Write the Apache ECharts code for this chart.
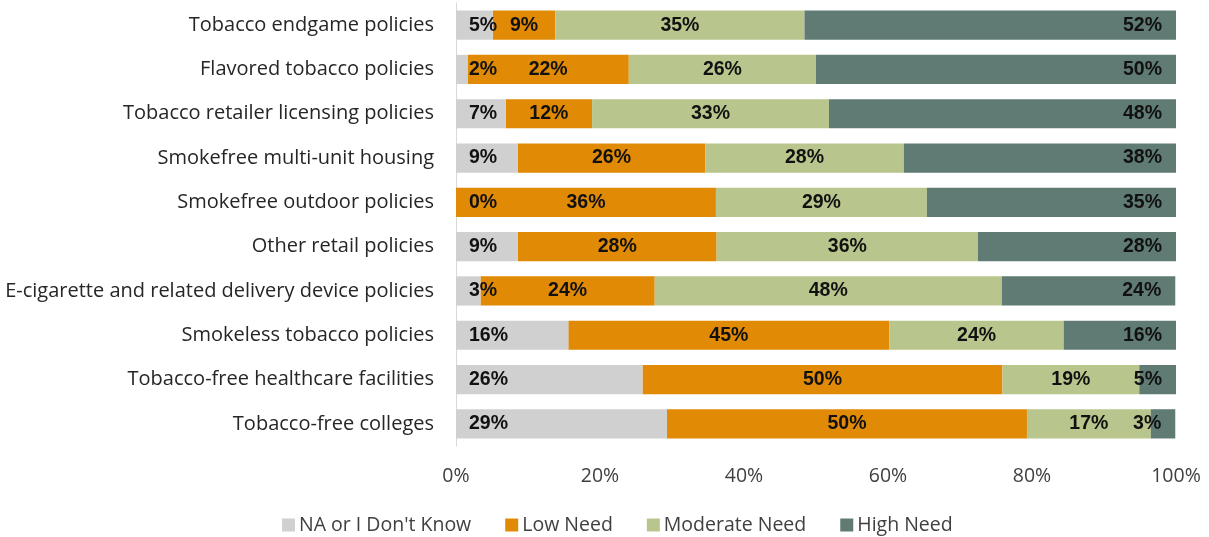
<!DOCTYPE html>
<html>
<head>
<meta charset="utf-8">
<script src="https://cdn.jsdelivr.net/npm/echarts@6/dist/echarts.min.js"></script>
<style>
  html, body { margin: 0; padding: 0; background: #ffffff; }
  #chart { width: 1209px; height: 537px; }
</style>
</head>
<body>
<div id="chart"></div>
<script>
// Policy areas, top to bottom
const categories = [
  'Tobacco endgame policies',
  'Flavored tobacco policies',
  'Tobacco retailer licensing policies',
  'Smokefree multi-unit housing',
  'Smokefree outdoor policies',
  'Other retail policies',
  'E-cigarette and related delivery device policies',
  'Smokeless tobacco policies',
  'Tobacco-free healthcare facilities',
  'Tobacco-free colleges'
];

// Share of respondents (%) per need level, same order as categories
const naDontKnow   = [5.1, 1.6, 6.9, 8.6, 0,    8.6,  3.4, 15.6, 25.9, 29.3];
const lowNeed      = [8.7, 22.4, 12.0, 26.0, 36.1, 27.6, 24.2, 44.6, 50.0, 50.0];
const moderateNeed = [34.6, 26.0, 32.9, 27.6, 29.3, 36.3, 48.2, 24.2, 19.0, 17.2];
const highNeed     = [51.6, 50.0, 48.2, 37.8, 34.6, 27.5, 24.1, 15.6, 5.1, 3.4];

const xTicks = [0, 20, 40, 60, 80, 100];

const seriesNames = ['NA or I Don\'t Know', 'Low Need', 'Moderate Need', 'High Need'];
const seriesColors = ['#d0d0d0', '#e08a06', '#b8c68d', '#607b74'];
const seriesData = [naDontKnow, lowNeed, moderateNeed, highNeed];
const labelPlacement = [
  { position: 'insideLeft', distance: 13 },
  { position: 'inside', distance: 0 },
  { position: 'inside', distance: 0 },
  { position: 'insideRight', distance: 14 }
];

const chart = echarts.init(document.getElementById('chart'), null, { renderer: 'canvas' });

chart.setOption({
  animation: false,
  backgroundColor: '#ffffff',
  textStyle: { fontFamily: 'Open Sans' },
  grid: { left: 456, right: 33, top: 3, bottom: 91, containLabel: false },
  legend: {
    data: seriesNames,
    top: 510,
    left: 277,
    itemWidth: 13,
    itemHeight: 13,
    itemGap: 34,
    icon: 'rect',
    textStyle: { fontSize: 19.5, color: '#404040', fontFamily: 'Open Sans', padding: [0, 0, 0, -1] }
  },
  xAxis: {
    type: 'value',
    min: 0,
    max: 100,
    interval: 20,
    axisLine: { show: false },
    axisTick: { show: false },
    splitLine: { show: false },
    axisLabel: {
      color: '#404040',
      fontSize: 19.5,
      margin: 20,
      fontFamily: 'Open Sans',
      formatter: v => (xTicks.includes(v) ? v + '%' : '')
    }
  },
  yAxis: {
    type: 'category',
    data: categories,
    inverse: true,
    axisLine: { show: true, lineStyle: { color: '#d9d9d9', width: 1 } },
    axisTick: { show: false },
    splitLine: { show: false },
    axisLabel: {
      color: '#262626',
      fontSize: 20,
      margin: 22,
      fontFamily: 'Open Sans'
    }
  },
  series: seriesData.map((vals, i) => ({
    name: seriesNames[i],
    type: 'bar',
    stack: 'total',
    data: vals,
    barWidth: '66%',
    z: i === 0 ? 4 : 2,
    itemStyle: { color: seriesColors[i] },
    label: {
      show: true,
      position: labelPlacement[i].position,
      distance: labelPlacement[i].distance,
      color: '#111111',
      fontSize: 19.5,
      fontWeight: 'bold',
      fontFamily: 'Liberation Sans',
      formatter: p => Math.round(p.value) + '%'
    },
    labelLayout: { hideOverlap: false }
  }))
});
</script>
</body>
</html>
